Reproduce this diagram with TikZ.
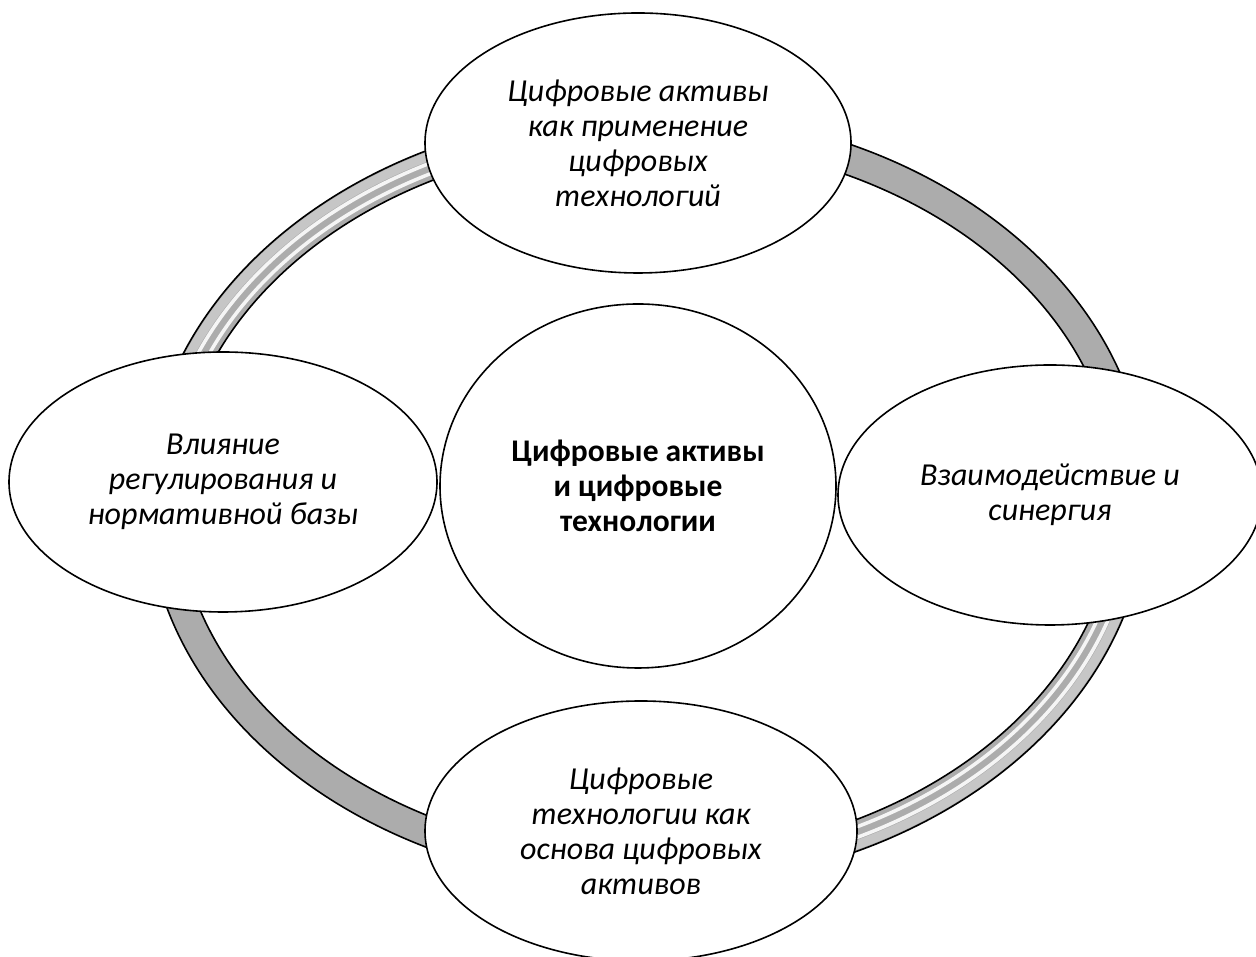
\documentclass[tikz,border=0pt]{standalone}
\usepackage{fontspec}
\setmainfont{Carlito}
\usetikzlibrary{shapes.geometric}
\begin{document}
\begin{tikzpicture}[x=1pt,y=1pt,
  outline/.style={draw=black, line width=1.6pt},
  bubble/.style={ellipse, outline, fill=white, align=center, inner sep=0pt,
    minimum width=426, minimum height=260,
    font=\fontsize{32}{35}\selectfont\itshape},
  hub/.style={ellipse, outline, fill=white, align=center, inner sep=0pt,
    minimum width=396, minimum height=364,
    font=\fontsize{31.5}{35}\selectfont\bfseries},
  ringfill/.style={fill=gray!65, even odd rule},
  shine/.style={draw=gray!8, line width=3.5pt},
  paleband/.style={draw=gray!45, line width=9pt}]
\useasboundingbox (0,0) rectangle (1256,957);
\clip (0,0) rectangle (1256,957);
\coordinate (rc) at (647,458);
% ring
\fill[ringfill] (rc) ellipse [x radius=500, y radius=388] (rc) ellipse [x radius=470, y radius=358];
\begin{scope}
  \clip (rc) rectangle ++(-700,700) (rc) rectangle ++(700,-700);
  \draw[paleband] (rc) ellipse [x radius=494, y radius=382];
  \draw[shine] (rc) ellipse [x radius=487, y radius=375];
  \draw[shine] (rc) ellipse [x radius=477, y radius=365];
\end{scope}
\draw[outline] (rc) ellipse [x radius=500, y radius=388];
\draw[outline] (rc) ellipse [x radius=470, y radius=358];
% nodes
\node[hub] (hub) at (638,471) {Цифровые активы\\и цифровые\\технологии};
\node[bubble] (top) at (638,814) {Цифровые активы\\как применение\\цифровых\\технологий};
\node[bubble, minimum width=428] (left) at (223,475) {Влияние\\регулирования и\\нормативной базы};
\node[bubble, minimum width=424] (right) at (1050,462) {Взаимодействие и\\синергия};
\node[bubble, minimum width=432] (bottom) at (641,126) {Цифровые\\технологии как\\основа цифровых\\активов};
\end{tikzpicture}
\end{document}
